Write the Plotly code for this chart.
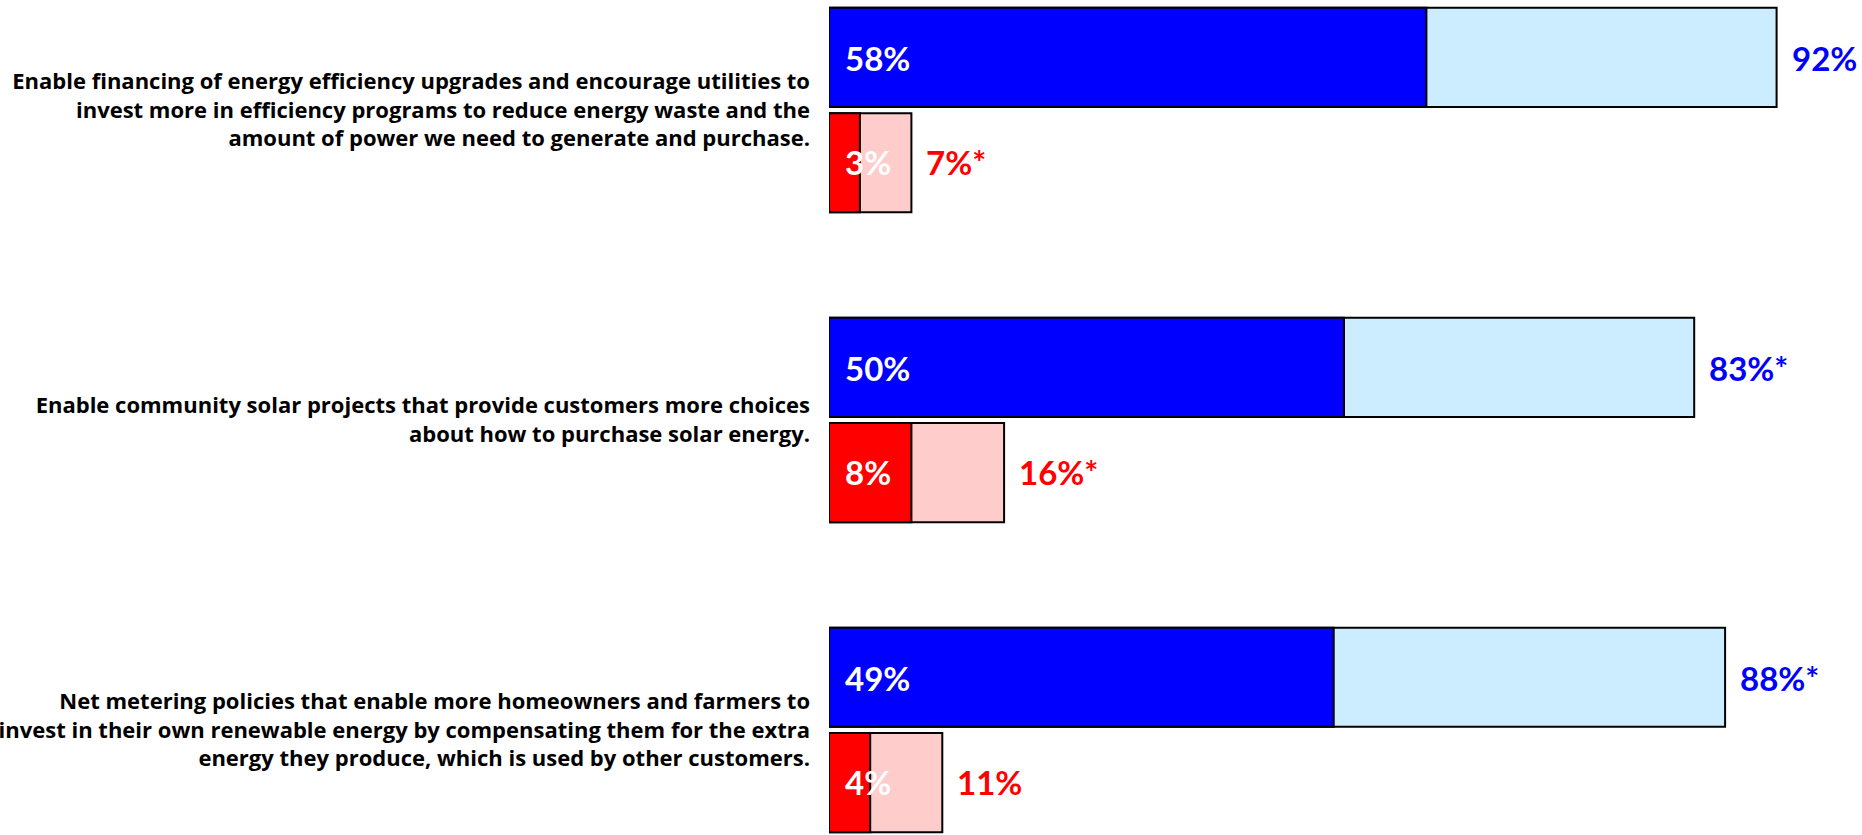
import plotly.graph_objects as go

# ---- data ----
questions = [
    "Enable financing of energy efficiency upgrades and encourage utilities to<br>"
    "invest more in efficiency programs to reduce energy waste and the<br>"
    "amount of power we need to generate and purchase.",
    "Enable community solar projects that provide customers more choices<br>"
    "about how to purchase solar energy.",
    "Net metering policies that enable more homeowners and farmers to<br>"
    "invest in their own renewable energy by compensating them for the extra<br>"
    "energy they produce, which is used by other customers.",
]
support_strong = [58, 50, 49]
support_total = [92, 84, 87]
support_total_labels = ["92%", "83%*", "88%*"]
oppose_strong = [3, 8, 4]
oppose_total = [8, 17, 11]
oppose_total_labels = ["7%*", "16%*", "11%"]

LABEL_FONT = "Lato, sans-serif"
TICK_FONT = "'Open Sans', sans-serif"
BLUE, LBLUE = "#0000FF", "#CCECFF"
RED, LRED = "#FF0000", "#FFCCCC"

W_BAR = 0.32
OFF_SUP = -0.33
OFF_OPP = 0.01
line = dict(color="black", width=2)

fig = go.Figure()
for xs, color, off in [
    (support_total, LBLUE, OFF_SUP),
    (support_strong, BLUE, OFF_SUP),
    (oppose_total, LRED, OFF_OPP),
    (oppose_strong, RED, OFF_OPP),
]:
    fig.add_trace(go.Bar(
        y=questions, x=xs, orientation="h",
        marker=dict(color=color, line=line),
        width=W_BAR, offset=off, hoverinfo="skip", showlegend=False,
    ))

LBL = dict(family=LABEL_FONT, size=33, weight="bold")
ann = []
for q, s, t, tl, os_, ot, otl in zip(questions, support_strong, support_total,
                                      support_total_labels, oppose_strong,
                                      oppose_total, oppose_total_labels):
    ann.append(dict(x=0, y=q, text=f"{s}%", xanchor="left", yanchor="middle",
                    xshift=14, yshift=52, showarrow=False,
                    font=dict(LBL, color="white")))
    ann.append(dict(x=0, y=q, text=f"{os_}%", xanchor="left", yanchor="middle",
                    xshift=14, yshift=-52, showarrow=False,
                    font=dict(LBL, color="white")))
    ann.append(dict(x=t, y=q, text=tl, xanchor="left", yanchor="middle",
                    xshift=13, yshift=52, showarrow=False,
                    font=dict(LBL, color=BLUE)))
    ann.append(dict(x=ot, y=q, text=otl, xanchor="left", yanchor="middle",
                    xshift=13, yshift=-52, showarrow=False,
                    font=dict(LBL, color=RED)))

fig.update_layout(
    width=1862, height=835,
    margin=dict(l=829, r=3, t=0, b=0, autoexpand=False),
    barmode="overlay",
    plot_bgcolor="white", paper_bgcolor="white",
    annotations=ann,
    font=dict(family=TICK_FONT, color="black"),
)
fig.update_xaxes(range=[0, 100], showgrid=False, zeroline=False,
                 showticklabels=False, showline=False, automargin=False)
fig.update_yaxes(type="category", range=[2.339, -0.355], showgrid=False,
                 zeroline=False, showline=False, ticks="", automargin=False,
                 ticklabelstandoff=18,
                 tickfont=dict(family=TICK_FONT, size=22, color="black", weight="bold"))

fig.write_html("out.html",
               config={"displayModeBar": False},
               post_script="document.body.style.margin='0';"
                           "document.body.style.overflow='hidden';")
